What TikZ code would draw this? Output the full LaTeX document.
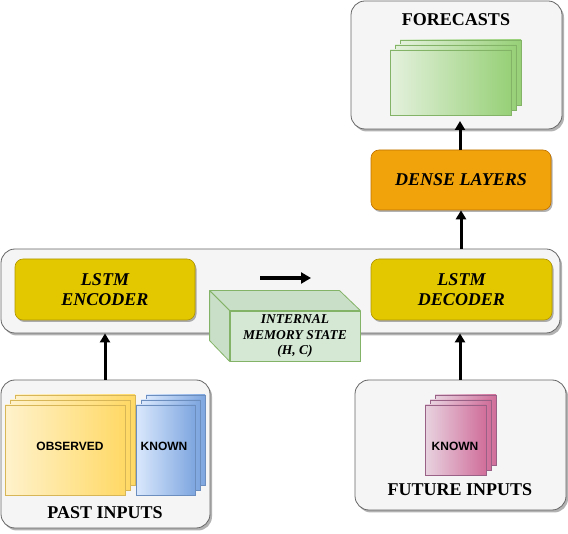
\documentclass[tikz,border=0pt]{standalone}
\usepackage{fontspec}
\setmainfont{Liberation Serif}
\newfontfamily\arialfont{Liberation Sans}
\usetikzlibrary{arrows.meta,shadows,calc}
\definecolor{contfill}{HTML}{F5F5F5}
\definecolor{contdraw}{HTML}{666666}
\definecolor{lstmfill}{HTML}{E3C800}
\definecolor{lstmdraw}{HTML}{B09500}
\definecolor{densefill}{HTML}{F0A30A}
\definecolor{densedraw}{HTML}{BD7000}
\definecolor{cubefill}{HTML}{D5E8D4}
\definecolor{cubeside}{HTML}{CADFC8}
\definecolor{greendraw}{HTML}{82B366}
\definecolor{greenA}{HTML}{E4F1DD}
\definecolor{greenB}{HTML}{97D077}
\definecolor{yellowA}{HTML}{FFF2CC}
\definecolor{yellowB}{HTML}{FFD966}
\definecolor{yellowdraw}{HTML}{D6B656}
\definecolor{blueA}{HTML}{DAE8FC}
\definecolor{blueB}{HTML}{7EA6E0}
\definecolor{bluedraw}{HTML}{6C8EBF}
\definecolor{pinkA}{HTML}{E8D3E0}
\definecolor{pinkB}{HTML}{D06E9A}
\definecolor{pinkdraw}{HTML}{996185}
\tikzset{
  cont/.style={draw=contdraw, fill=contfill, rounded corners=14pt, line width=0.8pt,
    drop shadow={shadow xshift=2pt,shadow yshift=-2.5pt,opacity=0.3,fill=black},
    inner sep=0pt, anchor=center},
  lstm/.style={draw=lstmdraw, fill=lstmfill, rounded corners=8pt, line width=0.6pt,
    drop shadow={shadow xshift=1.5pt,shadow yshift=-2pt,opacity=0.3,fill=black},
    inner sep=0pt, anchor=center, align=center,
    font=\fontsize{18}{20}\selectfont\bfseries\itshape},
  dense/.style={lstm, draw=densedraw, fill=densefill},
  layer/.style 2 args={draw=#1, line width=0.6pt, inner sep=0pt, left color=#2A, right color=#2B},
  title/.style={font=\fontsize{18}{20}\selectfont\bfseries, inner sep=0pt},
  small/.style={font=\arialfont\fontsize{12}{14}\selectfont\bfseries, inner sep=0pt},
  flow/.style={line width=3pt, -{Triangle[length=9pt,width=10pt]}},
}
\begin{document}
\begin{tikzpicture}[x=1pt,y=-1pt]
\useasboundingbox (0,0) rectangle (568,534);

% ---------- Forecasts ----------
\node[cont, minimum width=211pt, minimum height=128pt] (fc) at (456.5,65) {};
\node[title] (fctitle) at (456,20) {FORECASTS};
\node[layer={greendraw}{green}, minimum width=121pt, minimum height=65pt] (g3) at (460.5,72.5) {};
\node[layer={greendraw}{green}, minimum width=121pt, minimum height=65pt] (g2) at (455.5,77.5) {};
\node[layer={greendraw}{green}, minimum width=121pt, minimum height=65pt] (g1) at (450.5,82.5) {};

% ---------- Dense ----------
\node[dense, minimum width=180pt, minimum height=60pt] (dense) at (461,180) {DENSE LAYERS};

% ---------- Main container ----------
\node[cont, minimum width=559pt, minimum height=84pt] (main) at (280.5,291) {};
\node[lstm, minimum width=180pt, minimum height=61pt] (enc) at (105,289.5) {LSTM\\ENCODER};
\node[lstm, minimum width=181pt, minimum height=61pt] (dec) at (461.5,289.5) {LSTM\\DECODER};
\coordinate (ma) at (260,278);
\coordinate (mb) at (311,278);
\draw[line width=4pt, -{Triangle[length=10pt,width=11pt]}] (ma) -- (mb);

% ---------- Memory cube ----------
\node[draw=greendraw, fill=cubefill, line width=0.8pt, minimum width=130pt, minimum height=50pt,
  inner sep=0pt, align=center, font=\fontsize{13.5}{15.5}\selectfont\bfseries\itshape] (mem) at (295,336)
  {INTERNAL\\MEMORY STATE\\(H, C)};
\draw[draw=greendraw, fill=cubeside, line width=0.8pt, line join=round]
  (mem.north west) -- ++(-20,-20) -- ++(130,0) -- (mem.north east) -- cycle;
\draw[draw=greendraw, fill=cubeside, line width=0.8pt, line join=round]
  (mem.north west) -- ++(-20,-20) -- ++(0,50) -- (mem.south west) -- cycle;

% ---------- Past inputs ----------
\node[cont, minimum width=209pt, minimum height=148pt] (past) at (105.5,454) {};
\node[title] (pasttitle) at (105,513) {PAST INPUTS};
\node[layer={yellowdraw}{yellow}, minimum width=120pt, minimum height=90pt] (y3) at (75,440) {};
\node[layer={yellowdraw}{yellow}, minimum width=120pt, minimum height=90pt] (y2) at (70,445) {};
\node[layer={yellowdraw}{yellow}, minimum width=120pt, minimum height=90pt] (y1) at (65,450) {};
\node[small] (obs) at (70,446) {OBSERVED};
\node[layer={bluedraw}{blue}, minimum width=59pt, minimum height=90pt] (b3) at (175.5,440) {};
\node[layer={bluedraw}{blue}, minimum width=59pt, minimum height=90pt] (b2) at (170.5,445) {};
\node[layer={bluedraw}{blue}, minimum width=59pt, minimum height=90pt] (b1) at (165.5,450) {};
\node[small] (pk) at (164,446) {KNOWN};

% ---------- Future inputs ----------
\node[cont, minimum width=211pt, minimum height=130pt] (fut) at (460.5,445) {};
\node[title] (futtitle) at (460,490) {FUTURE INPUTS};
\node[layer={pinkdraw}{pink}, minimum width=61pt, minimum height=70pt] (p3) at (465.5,430) {};
\node[layer={pinkdraw}{pink}, minimum width=61pt, minimum height=70pt] (p2) at (460.5,435) {};
\node[layer={pinkdraw}{pink}, minimum width=61pt, minimum height=70pt] (p1) at (455.5,440) {};
\node[small] (fk) at (455,446) {KNOWN};

% ---------- Arrows ----------
\coordinate (fctip) at (460,121);
\draw[flow] (dense.north -| fctip) -- (fctip);
\draw[flow] (dense.south |- main.north) -- (dense.south);
\draw[flow] (enc.south |- past.north) -- (enc.south |- main.south);
\draw[flow] (460,380) coordinate (fs) -- (fs |- main.south);
\end{tikzpicture}
\end{document}
